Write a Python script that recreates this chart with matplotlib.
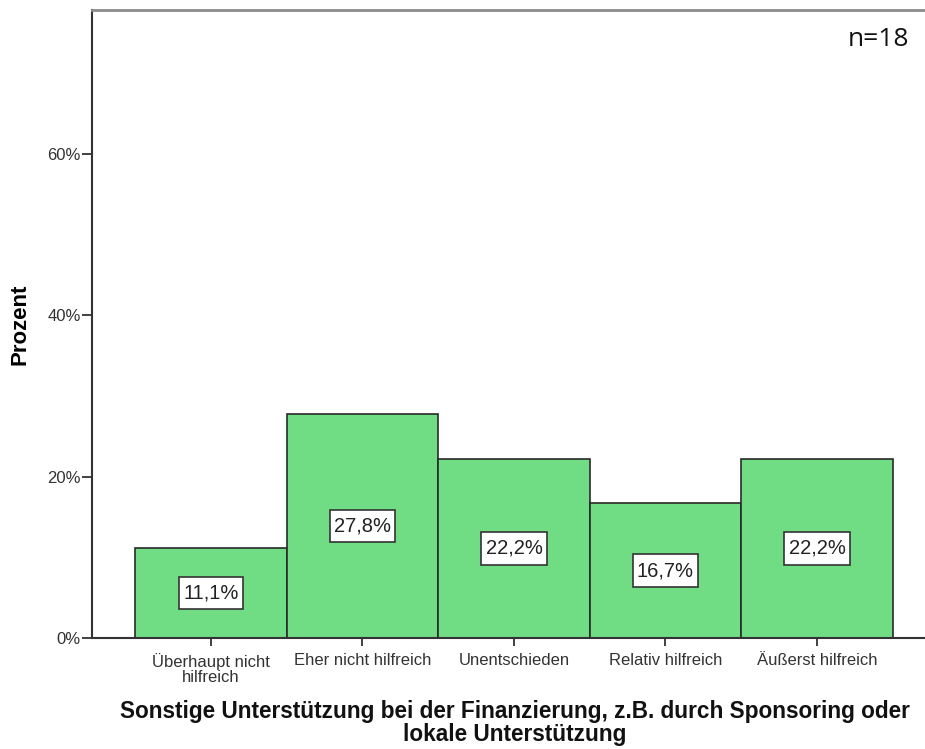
import matplotlib.pyplot as plt
from matplotlib.path import Path

categories = ["Überhaupt nicht\nhilfreich", "Eher nicht hilfreich", "Unentschieden",
              "Relativ hilfreich", "Äußerst hilfreich"]
percent = [11.1, 27.8, 22.2, 16.7, 22.2]
yticks = [0, 20, 40, 60]
n_total = 18

plt.rcParams['font.family'] = ['Liberation Sans', 'DejaVu Sans']


def label_box(x0, y0, width, height, mutation_size):
    # white box with more room above/below the text than at the sides
    px = 0.22 * mutation_size
    py = 0.33 * mutation_size
    x0, y0 = x0 - px, y0 - py
    x1, y1 = x0 + width + 2 * px, y0 + height + 2 * py
    return Path([(x0, y0), (x1, y0), (x1, y1), (x0, y1), (x0, y0)], closed=True)


fig = plt.figure(figsize=(9.25, 7.49), dpi=100)
ax = fig.add_axes([92 / 925, 1 - 638 / 749, 1 - 92 / 925, 628 / 749])

x = range(len(categories))
ax.bar(x, percent, width=1.0, color='#70dc84', edgecolor='#2a2a2a', linewidth=1.2, zorder=2)

# value labels in white boxes, centred in the bar
for xi, v in zip(x, percent):
    ax.text(xi, v / 2, '{:.1f}%'.format(v).replace('.', ','), ha='center', va='center',
            fontsize=14.5, color='#222222', zorder=3,
            bbox=dict(boxstyle=label_box, facecolor='white', edgecolor='#333333', linewidth=1.2))

ax.set_xlim(-0.785, 4.713)
ax.set_ylim(0, 77.85)

ax.set_yticks(yticks)
ax.set_yticklabels(['{}%'.format(t) for t in yticks], fontsize=12, color='#333333')
ax.set_xticks(list(x))
ax.set_xticklabels(categories, fontsize=12, color='#333333', linespacing=1.0)
ax.tick_params(axis='both', direction='out', width=1.3, color='#333333')
ax.tick_params(axis='y', length=7, pad=1)
ax.tick_params(axis='x', length=6, pad=4.5)

ax.spines['right'].set_visible(False)
ax.spines['left'].set_color('#333333')
ax.spines['left'].set_linewidth(1.5)
ax.spines['bottom'].set_color('#333333')
ax.spines['bottom'].set_linewidth(1.5)
ax.spines['top'].set_color('#8c8c8c')
ax.spines['top'].set_linewidth(2.0)

ax.set_ylabel('Prozent', fontsize=16, fontweight='bold', labelpad=12)

fig.text(515 / 925, 1 - 723 / 749,
         'Sonstige Unterstützung bei der Finanzierung, z.B. durch Sponsoring oder\nlokale Unterstützung',
         ha='center', va='center', fontsize=16.3, fontweight='bold', linespacing=0.95, color='#111111')

fig.text(879 / 925, 1 - 40 / 749, 'n={}'.format(n_total), ha='center', va='center',
         fontsize=19, family='Open Sans', color='#111111')

fig.savefig('out.png', dpi=100)
